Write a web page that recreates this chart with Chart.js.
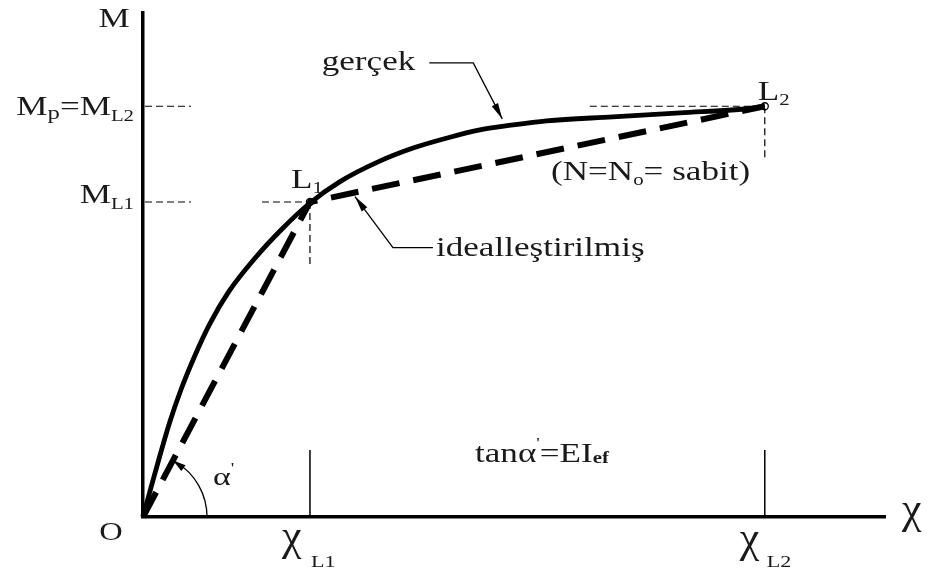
<!DOCTYPE html>
<html>
<head>
<meta charset="utf-8">
<script src="https://cdn.jsdelivr.net/npm/chart.js@4"></script>
<style>
  html, body { margin: 0; background: #fff; }
</style>
</head>
<body>
<canvas id="mchi" width="928" height="576"></canvas>
<script>
// moment - curvature, real curve (gerçek)
const chi   = [0, 0.11, 0.23, 0.36, 0.51, 0.69, 0.90, 1.16, 1.50, 1.87, 2.25, 2.65, 3.19, 3.64, 4.10, 4.54, 4.99, 5.44, 6.33, 7.24, 8.14, 8.38];
const realM = [0, 0.60, 1.23, 1.88, 2.52, 3.17, 3.83, 4.48, 5.12, 5.71, 6.23, 6.65, 7.06, 7.32, 7.52, 7.68, 7.78, 7.86, 7.94, 8.02, 8.10, 8.15];

// idealized bilinear curve O - L1 - L2
const idealChi = [0, 2.25, 8.38];
const idealM   = [0, 6.25, 8.15];

const pointNames = ['L1', 'L2'];

const FONT = '"Liberation Serif", "Times New Roman", serif';
const INK = '#1a1a1a';
const SX = 1.3; // the typeface in this drawing runs wide

function richText(ctx, parts, x, y, align, sx) {
  sx = sx || SX;
  let total = 0;
  parts.forEach(p => {
    ctx.font = (p[3] || '') + ' ' + p[1] + 'px ' + FONT;
    total += ctx.measureText(p[0]).width * sx;
  });
  let cx = align === 'right' ? x - total : align === 'center' ? x - total / 2 : x;
  ctx.fillStyle = INK;
  ctx.textBaseline = 'alphabetic';
  ctx.textAlign = 'left';
  parts.forEach(p => {
    ctx.font = (p[3] || '') + ' ' + p[1] + 'px ' + FONT;
    const w = ctx.measureText(p[0]).width * sx;
    ctx.save();
    ctx.translate(cx, y + (p[2] || 0));
    ctx.scale(sx, 1);
    ctx.fillText(p[0], 0, 0);
    ctx.restore();
    cx += w;
  });
}

function path(ctx, pts, width, dash) {
  ctx.save();
  ctx.strokeStyle = '#000';
  ctx.lineWidth = width;
  ctx.setLineDash(dash || []);
  ctx.beginPath();
  pts.forEach((p, i) => i ? ctx.lineTo(p[0], p[1]) : ctx.moveTo(p[0], p[1]));
  ctx.stroke();
  ctx.restore();
}

function arrowHead(ctx, tip, from, len, half) {
  const dx = tip[0] - from[0], dy = tip[1] - from[1];
  const d = Math.hypot(dx, dy);
  const ux = dx / d, uy = dy / d;
  const bx = tip[0] - ux * len, by = tip[1] - uy * len;
  ctx.save();
  ctx.fillStyle = '#000';
  ctx.beginPath();
  ctx.moveTo(tip[0], tip[1]);
  ctx.lineTo(bx - uy * half, by + ux * half);
  ctx.lineTo(bx + uy * half, by - ux * half);
  ctx.closePath();
  ctx.fill();
  ctx.restore();
}

const annotations = {
  id: 'annotations',
  beforeDatasetsDraw(chart) {
    const ctx = chart.ctx;
    const { x, y } = chart.scales;
    const a = chart.chartArea;
    const l1 = [x.getPixelForValue(idealChi[1]), y.getPixelForValue(idealM[1])];
    const l2 = [x.getPixelForValue(idealChi[2]), y.getPixelForValue(idealM[2])];
    const dash = [7, 4];
    // level marks on the M axis
    path(ctx, [[a.left + 2, l2[1]], [a.left + 48, l2[1]]], 1.2, dash);
    path(ctx, [[a.left + 2, l1[1]], [a.left + 48, l1[1]]], 1.2, dash);
    // cross hairs at L1 and L2
    path(ctx, [[l1[0] - 48, l1[1]], [l1[0], l1[1]]], 1.2, dash);
    path(ctx, [[l1[0], l1[1]], [l1[0], l1[1] + 66]], 1.2, dash);
    path(ctx, [[l2[0] - 175, l2[1]], [l2[0], l2[1]]], 1.2, dash);
    path(ctx, [[l2[0], l2[1]], [l2[0], l2[1] + 54]], 1.2, dash);
    // curvature marks on the χ axis
    path(ctx, [[l1[0], a.bottom - 67], [l1[0], a.bottom]], 1.5);
    path(ctx, [[l2[0], a.bottom - 67], [l2[0], a.bottom]], 1.5);
  },
  afterDatasetsDraw(chart) {
    const ctx = chart.ctx;
    const { x, y } = chart.scales;
    const a = chart.chartArea;
    const o = [a.left, a.bottom];
    const l1 = [x.getPixelForValue(idealChi[1]), y.getPixelForValue(idealM[1])];
    const l2 = [x.getPixelForValue(idealChi[2]), y.getPixelForValue(idealM[2])];

    // axis names
    richText(ctx, [['M', 27]], a.left - 29, a.top + 14, 'center');
    richText(ctx, [['O', 25]], a.left - 32, a.bottom + 23, 'center');
    richText(ctx, [['χ', 44]], a.right + 17, a.bottom + 6, 'left', 1);

    // M levels
    richText(ctx, [['M', 27], ['p', 19, 4], ['=M', 27], ['L2', 16, 6]], a.left - 9, l2[1] + 9, 'right');
    richText(ctx, [['M', 27], ['L1', 16, 6]], a.left - 9, l1[1] + 1, 'right');

    // χ levels
    richText(ctx, [['χ', 44]], l1[0] - 28, a.bottom + 33, 'left', 1);
    richText(ctx, [['L1', 17]], l1[0] + 1, a.bottom + 50, 'left');
    richText(ctx, [['χ', 44]], l2[0] - 25, a.bottom + 35, 'left', 1);
    richText(ctx, [['L2', 17]], l2[0] + 2, a.bottom + 50, 'left');

    // point names
    richText(ctx, [['L', 27], ['1', 16, 5]], l1[0] - 19, l1[1] - 14, 'left');
    richText(ctx, [['L', 27], ['2', 16, 5]], l2[0] - 7, l2[1] - 6, 'left');

    // (N = No = sabit)
    richText(ctx, [['(N=N', 27], ['o', 16, 5], ['= sabit)', 27]], 551, l1[1] - 22, 'left');

    // tan α' = EI ef
    richText(ctx, [['tanα', 27], ["'", 15, -14], ['=EI', 27], ['ef', 16, 1, 'bold']], 475, a.bottom - 55, 'left');

    // angle α' between the axis and the initial idealized branch
    const ang = Math.atan2(o[1] - l1[1], l1[0] - o[0]);
    const r = 64;
    ctx.save();
    ctx.strokeStyle = '#000';
    ctx.lineWidth = 1.3;
    ctx.beginPath();
    ctx.arc(o[0], o[1], r, -ang + 0.05, 0, false);
    ctx.stroke();
    ctx.restore();
    const tip = [o[0] + r * Math.cos(ang), o[1] - r * Math.sin(ang)];
    const back = [o[0] + r * Math.cos(ang - 0.3), o[1] - r * Math.sin(ang - 0.3)];
    arrowHead(ctx, tip, back, 13, 3.5);
    richText(ctx, [['α', 26], ["'", 15, -12]], o[0] + 70, o[1] - 32, 'left');

    // leader: gerçek
    const gTip = [x.getPixelForValue(chi[16]) - 11, y.getPixelForValue(realM[16]) - 6];
    const gElbow = [gTip[0] - 29, gTip[1] - 56];
    const gStart = [gElbow[0] - 44, gElbow[1]];
    path(ctx, [gStart, gElbow, gTip], 1.3);
    arrowHead(ctx, gTip, gElbow, 16, 3.5);
    richText(ctx, [['gerçek', 27]], gStart[0] - 14, gStart[1] + 7, 'right');

    // leader: idealleştirilmiş
    const iTipX = l1[0] + 45;
    const iTip = [iTipX, l1[1] + (l2[1] - l1[1]) * (iTipX - l1[0]) / (l2[0] - l1[0]) + 4];
    const iElbow = [iTip[0] + 38, iTip[1] + 51];
    const iEnd = [iElbow[0] + 40, iElbow[1]];
    path(ctx, [iEnd, iElbow, iTip], 1.3);
    arrowHead(ctx, iTip, iElbow, 16, 3.5);
    richText(ctx, [['idealleştirilmiş', 27]], iEnd[0] + 3, iEnd[1] + 8, 'left');
  }
};

new Chart(document.getElementById('mchi'), {
  type: 'line',
  data: {
    datasets: [
      {
        label: 'idealleştirilmiş',
        data: idealChi.map((v, i) => ({ x: v, y: idealM[i] })),
        borderColor: '#000',
        borderWidth: 6,
        borderDash: [28, 14],
        pointRadius: 0,
        tension: 0,
        clip: false
      },
      {
        label: 'gerçek',
        data: chi.map((v, i) => ({ x: v, y: realM[i] })),
        borderColor: '#000',
        borderWidth: 4.8,
        pointRadius: 0,
        cubicInterpolationMode: 'monotone',
        clip: false
      },
      {
        label: 'L',
        data: pointNames.map((n, i) => ({ x: idealChi[i + 1], y: idealM[i + 1] })),
        showLine: false,
        pointRadius: 3.5,
        pointBackgroundColor: '#fff',
        pointBorderColor: '#000',
        pointBorderWidth: 1.3,
        clip: false
      }
    ]
  },
  options: {
    responsive: false,
    animation: false,
    devicePixelRatio: 1,
    layout: { padding: { left: 143, right: 43, top: 13, bottom: 59 } },
    plugins: {
      legend: { display: false },
      tooltip: { enabled: false }
    },
    scales: {
      x: {
        type: 'linear',
        min: 0,
        max: 10,
        grid: { display: false, drawTicks: false },
        ticks: { display: false },
        border: { display: true, color: '#000', width: 3.5 }
      },
      y: {
        type: 'linear',
        min: 0,
        max: 10,
        grid: { display: false, drawTicks: false },
        ticks: { display: false },
        border: { display: true, color: '#000', width: 3.5 }
      }
    }
  },
  plugins: [annotations]
});
</script>
</body>
</html>
